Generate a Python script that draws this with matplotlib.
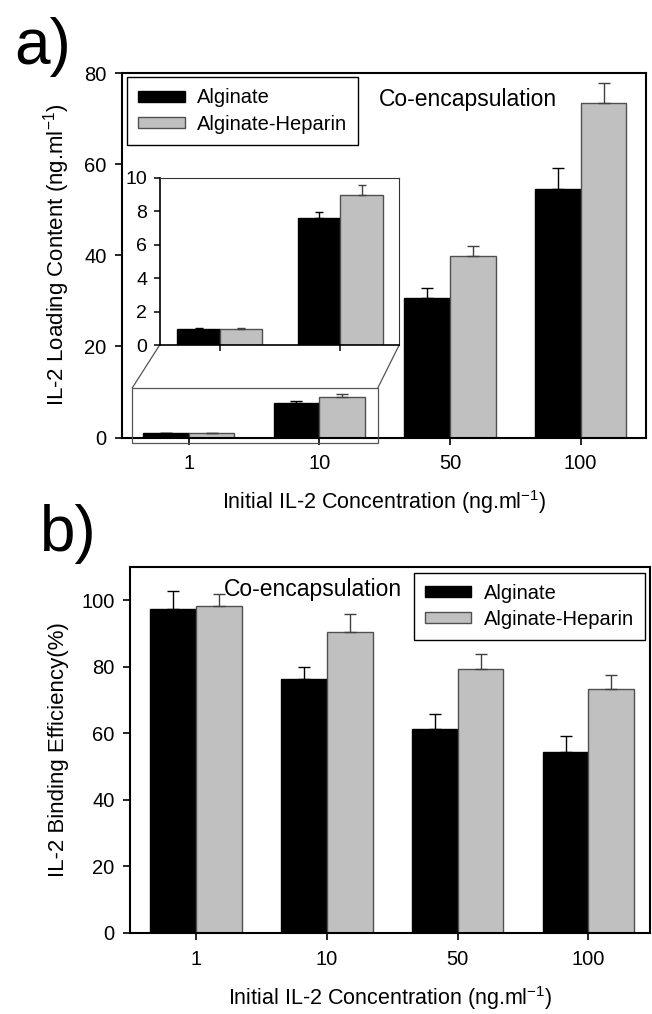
import matplotlib
matplotlib.use("Agg")
import matplotlib.pyplot as plt
import matplotlib.patches as patches
import numpy as np

plt.rcParams["font.family"] = ["Liberation Sans", "DejaVu Sans"]
plt.rcParams["mathtext.fontset"] = "custom"
plt.rcParams["mathtext.rm"] = "Liberation Sans"
plt.rcParams["mathtext.it"] = "Liberation Sans:italic"

# data
conc_labels = ["1", "10", "50", "100"]
series_names = ["Alginate", "Alginate-Heparin"]

load_alg = [0.94, 7.6, 30.6, 54.6]
load_alg_err = [0.05, 0.35, 2.2, 4.5]
load_hep = [0.95, 9.0, 39.8, 73.4]
load_hep_err = [0.05, 0.55, 2.2, 4.4]

eff_alg = [97.5, 76.4, 61.2, 54.5]
eff_alg_err = [5.2, 3.5, 4.6, 4.6]
eff_hep = [98.4, 90.4, 79.4, 73.3]
eff_hep_err = [3.4, 5.4, 4.6, 4.3]

BLACK = "black"
GREY = "#c0c0c0"
GREY_EDGE = "#505050"
W = 0.35
TICK_FS = 14.5
LAB_FS = 15.5
LEG_FS = 14.5
xlabel = "Initial IL-2 Concentration (ng.ml$^{-1}$)"


def draw_bars(ax, x, alg, alg_err, hep, hep_err, capsize=4.3):
    n = len(x)
    b1 = ax.bar(x - W / 2, alg, W, color=BLACK, edgecolor=BLACK, linewidth=1,
                yerr=[np.zeros(n), alg_err],
                error_kw=dict(ecolor="black", elinewidth=1, capsize=capsize, capthick=1),
                label=series_names[0], zorder=2)
    b2 = ax.bar(x + W / 2, hep, W, color=GREY, edgecolor=GREY_EDGE, linewidth=1,
                yerr=[np.zeros(n), hep_err],
                error_kw=dict(ecolor="#404040", elinewidth=1, capsize=capsize, capthick=1),
                label=series_names[1], zorder=2)
    return b1, b2


def style_axes(ax, lw=1.5):
    for s in ax.spines.values():
        s.set_linewidth(lw)
        s.set_color("black")
    ax.tick_params(direction="out", length=5, width=1.2, labelsize=TICK_FS,
                   top=False, right=False, pad=6)


def add_legend(ax, handles, **kw):
    leg = ax.legend(handles=handles, fontsize=LEG_FS, frameon=True, fancybox=False,
                    edgecolor="black", framealpha=1, handlelength=2.3,
                    handleheight=0.45, handletextpad=0.6, labelspacing=0.35,
                    borderpad=0.55, borderaxespad=0, **kw)
    leg.get_frame().set_linewidth(1)
    return leg


fig = plt.figure(figsize=(6.52, 10.14), dpi=100)

# ---------------- panel a ----------------
ax1 = fig.add_axes([0.1871, 0.5685, 0.8037, 0.3595])
x = np.arange(len(conc_labels))
h1, h2 = draw_bars(ax1, x, load_alg, load_alg_err, load_hep, load_hep_err)
ax1.set_xlim(-0.51, 3.50)
ax1.set_ylim(0, 80)
ax1.set_yticks([0, 20, 40, 60, 80])
ax1.set_xticks(x)
ax1.set_xticklabels(conc_labels)
style_axes(ax1)
ax1.tick_params(axis="x", pad=7)
ax1.set_ylabel("IL-2 Loading Content (ng.ml$^{-1}$)", fontsize=16, labelpad=9)
ax1.set_xlabel(xlabel, fontsize=LAB_FS, labelpad=11)
add_legend(ax1, [h1, h2], loc="upper left", bbox_to_anchor=(0.01, 0.988))
ax1.text(0.49, 0.928, "Co-encapsulation", transform=ax1.transAxes,
         fontsize=16.5, va="center", ha="left")

# zoom box + connectors
ins_x0, ins_y0, ins_w, ins_h = -0.222, 20.3, 1.833, 36.7
box_x0, box_y0, box_w, box_h = -0.431, -1.2, 1.879, 12.1
ax1.add_patch(patches.Rectangle((box_x0, box_y0), box_w, box_h, fill=False,
                                edgecolor="#555555", linewidth=0.9, clip_on=False, zorder=3))
ax1.plot([box_x0, ins_x0], [box_y0 + box_h, ins_y0], color="#555555", lw=0.9,
         clip_on=False, zorder=3)
ax1.plot([box_x0 + box_w, ins_x0 + ins_w], [box_y0 + box_h, ins_y0], color="#555555",
         lw=0.9, clip_on=False, zorder=3)

# inset
axi = ax1.inset_axes([ins_x0, ins_y0, ins_w, ins_h], transform=ax1.transData, zorder=4)
xi = np.arange(2)
draw_bars(axi, xi, load_alg[:2], load_alg_err[:2], load_hep[:2], load_hep_err[:2],
          capsize=3)
axi.set_xlim(-0.497, 1.486)
axi.set_ylim(0, 10)
axi.set_yticks([0, 2, 4, 6, 8, 10])
axi.set_xticks(xi)
axi.set_xticklabels([])
axi.tick_params(direction="out", length=4, width=1.1, labelsize=14, pad=5)
for s in ["left", "bottom"]:
    axi.spines[s].set_linewidth(1.2)
for s in ["top", "right"]:
    axi.spines[s].set_linewidth(0.8)
    axi.spines[s].set_color("#333333")

# ---------------- panel b ----------------
ax2 = fig.add_axes([0.1994, 0.0799, 0.7975, 0.3609])
g1, g2 = draw_bars(ax2, x, eff_alg, eff_alg_err, eff_hep, eff_hep_err)
ax2.set_xlim(-0.505, 3.47)
ax2.set_ylim(0, 110)
ax2.set_yticks([0, 20, 40, 60, 80, 100])
ax2.set_xticks(x)
ax2.set_xticklabels(conc_labels)
style_axes(ax2)
ax2.tick_params(axis="x", pad=7)
ax2.set_ylabel("IL-2 Binding Efficiency(%)", fontsize=16, labelpad=9)
ax2.set_xlabel(xlabel, fontsize=LAB_FS, labelpad=11)
add_legend(ax2, [g1, g2], loc="upper right", bbox_to_anchor=(0.99, 0.984))
ax2.text(0.181, 0.938, "Co-encapsulation", transform=ax2.transAxes,
         fontsize=16.5, va="center", ha="left")

# panel letters
fig.text(14 / 652, 1 - 64 / 1014, "a)", fontsize=46, ha="left", va="baseline")
fig.text(40 / 652, 1 - 551 / 1014, "b)", fontsize=46, ha="left", va="baseline")

fig.savefig("out.png", dpi=100)
